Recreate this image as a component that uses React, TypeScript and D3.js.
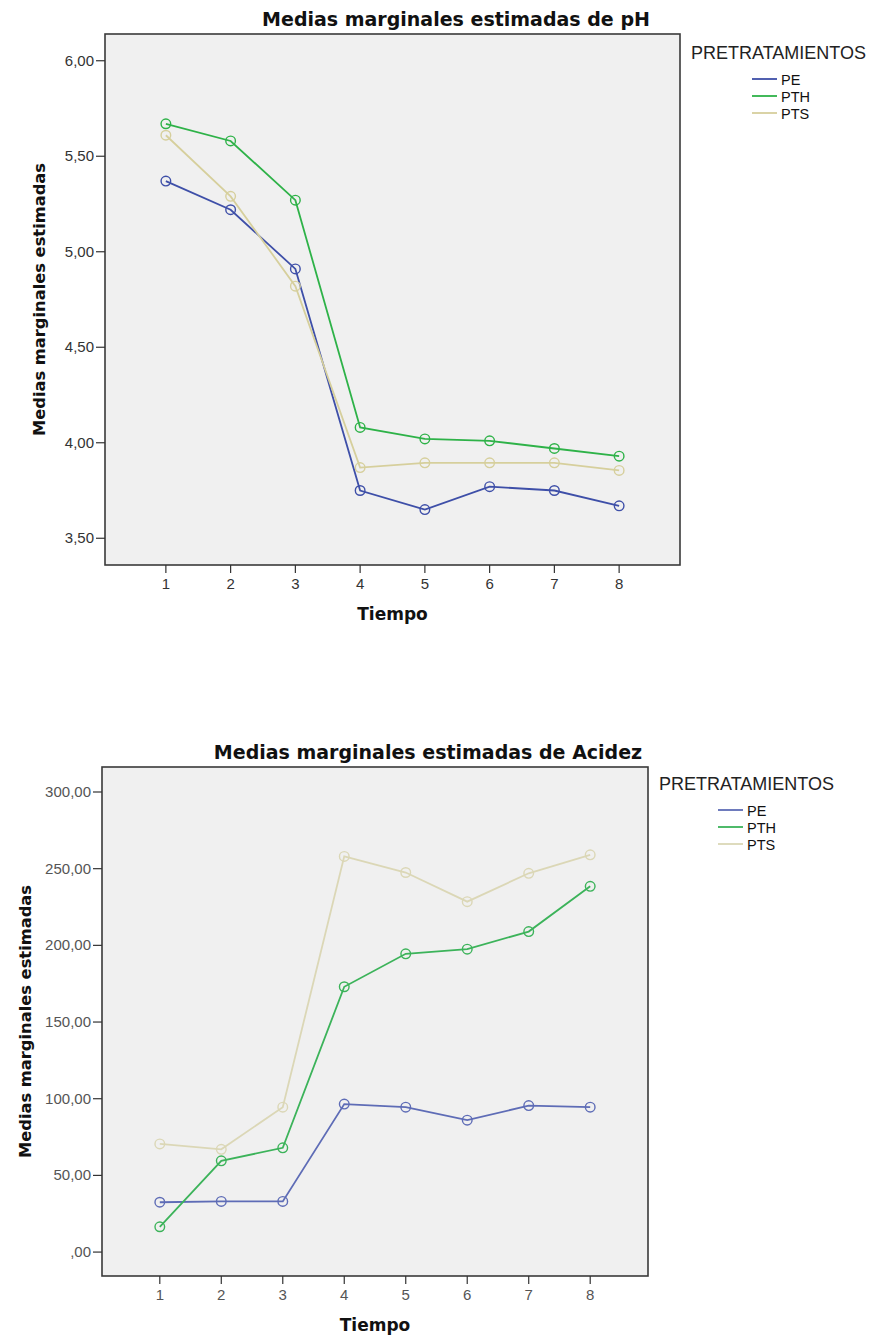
import React from 'react';
import * as d3 from 'd3';

// Tiempo (x categories)
const tiempo = [1, 2, 3, 4, 5, 6, 7, 8];
const seriesNames = ['PE', 'PTH', 'PTS'];

// pH means
const phPE = [5.37, 5.22, 4.91, 3.75, 3.65, 3.77, 3.75, 3.67];
const phPTH = [5.67, 5.58, 5.27, 4.08, 4.02, 4.01, 3.97, 3.93];
const phPTS = [5.61, 5.29, 4.82, 3.87, 3.895, 3.895, 3.895, 3.855];
const phTicks = [3.5, 4, 4.5, 5, 5.5, 6];

// Acidez means
const acPE = [32.5, 33, 33, 96.5, 94.5, 86, 95.5, 94.5];
const acPTH = [16.5, 59.5, 68, 173, 194.5, 197.5, 209, 238.5];
const acPTS = [70.5, 67, 94.5, 258, 247.5, 228.5, 247, 259];
const acTicks = [0, 50, 100, 150, 200, 250, 300];

const fmt = (v: number) => {
  const s = d3.format('.2f')(v).replace('.', ',');
  return s.startsWith('0,') ? s.slice(1) : s;
};

const sans = '"Liberation Sans", Arial, sans-serif';
const wide = '"DejaVu Sans", Verdana, sans-serif';

type ChartProps = {
  title: string;
  series: number[][];
  colors: string[];
  ticks: number[];
  yDomain: [number, number];
  frame: { left: number; right: number; top: number; bottom: number };
  titleX: number;
  titleY: number;
  yLabelX: number;
  legendX: number;
  legendY: number;
  lineX: number;
  tickColor: string;
};

const Chart = (p: ChartProps) => {
  const { frame } = p;
  const x = d3.scaleLinear().domain([0.06, 8.94]).range([frame.left, frame.right]);
  const y = d3.scaleLinear().domain(p.yDomain).range([frame.bottom, frame.top]);
  const line = d3
    .line<number>()
    .x((_, i) => x(tiempo[i]))
    .y(d => y(d));
  const midX = (frame.left + frame.right) / 2;
  const midY = (frame.top + frame.bottom) / 2;

  return (
    <g>
      <text x={p.titleX} y={p.titleY} textAnchor="middle" fontFamily={wide} fontWeight="bold" fontSize={19} fill="#111">
        {p.title}
      </text>
      <rect
        x={frame.left}
        y={frame.top}
        width={frame.right - frame.left}
        height={frame.bottom - frame.top}
        fill="#f0f0f0"
        stroke="#3a3a3a"
        strokeWidth={1.6}
      />
      {/* y axis */}
      {p.ticks.map(t => (
        <g key={t}>
          <line x1={frame.left - 9} x2={frame.left} y1={y(t)} y2={y(t)} stroke="#333" strokeWidth={1.2} />
          <text x={frame.left - 11} y={y(t) + 5} textAnchor="end" fontFamily={sans} fontSize={15} fill={p.tickColor}>
            {fmt(t)}
          </text>
        </g>
      ))}
      {/* x axis */}
      {tiempo.map(t => (
        <g key={t}>
          <line x1={x(t)} x2={x(t)} y1={frame.bottom} y2={frame.bottom + 8} stroke="#333" strokeWidth={1.2} />
          <text x={x(t)} y={frame.bottom + 24} textAnchor="middle" fontFamily={sans} fontSize={15} fill={p.tickColor}>
            {t}
          </text>
        </g>
      ))}
      <text x={midX} y={frame.bottom + 55} textAnchor="middle" fontFamily={wide} fontWeight="bold" fontSize={17} fill="#111">
        Tiempo
      </text>
      <text
        transform={`translate(${p.yLabelX}, ${midY}) rotate(-90)`}
        textAnchor="middle"
        fontFamily={wide}
        fontWeight="bold"
        fontSize={16.3}
        fill="#111"
      >
        Medias marginales estimadas
      </text>
      {/* series */}
      {p.series.map((s, si) => (
        <g key={si}>
          <path d={line(s) || ''} fill="none" stroke={p.colors[si]} strokeWidth={1.8} />
          {s.map((v, i) => (
            <circle key={i} cx={x(tiempo[i])} cy={y(v)} r={4.8} fill="none" stroke={p.colors[si]} strokeWidth={1.4} />
          ))}
        </g>
      ))}
      {/* legend */}
      <text x={p.legendX} y={p.legendY} fontFamily={sans} fontSize={18} fill="#222">
        PRETRATAMIENTOS
      </text>
      {seriesNames.map((n, i) => (
        <g key={n}>
          <line
            x1={p.lineX}
            x2={p.lineX + 25}
            y1={p.legendY + 20 + i * 17}
            y2={p.legendY + 20 + i * 17}
            stroke={p.colors[i]}
            strokeWidth={1.8}
          />
          <text x={p.lineX + 29} y={p.legendY + 26 + i * 17} fontFamily={sans} fontSize={14.5} fill="#111">
            {n}
          </text>
        </g>
      ))}
    </g>
  );
};

export default function App() {
  return (
    <svg width={874} height={1336} style={{ position: 'absolute', left: 0, top: 0, background: '#fff' }}>
      <Chart
        title="Medias marginales estimadas de pH"
        series={[phPE, phPTH, phPTS]}
        colors={['#3e4fa8', '#2eb248', '#d6cf9c']}
        ticks={phTicks}
        yDomain={[3.36, 6.14]}
        frame={{ left: 105, right: 680, top: 34, bottom: 565 }}
        titleX={456}
        titleY={26}
        yLabelX={45}
        legendX={691}
        legendY={59}
        lineX={752}
        tickColor="#333"
      />
      <Chart
        title="Medias marginales estimadas de Acidez"
        series={[acPE, acPTH, acPTS]}
        colors={['#5e6cb6', '#3cb35a', '#dbd7b6']}
        ticks={acTicks}
        yDomain={[-15.6, 316.3]}
        frame={{ left: 102, right: 648, top: 767, bottom: 1276 }}
        titleX={428}
        titleY={759}
        yLabelX={31}
        legendX={659}
        legendY={790}
        lineX={718}
        tickColor="#555"
      />
    </svg>
  );
}
